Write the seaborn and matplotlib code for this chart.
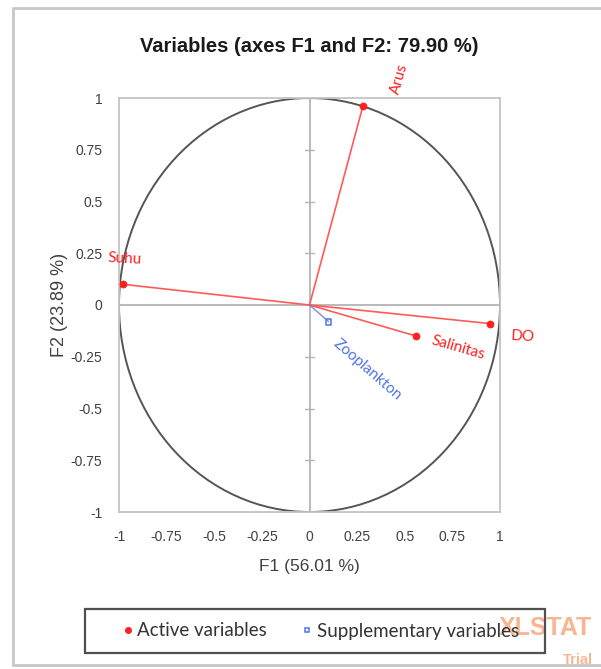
import numpy as np
import pandas as pd
import matplotlib
matplotlib.use("Agg")
import matplotlib.pyplot as plt
from matplotlib.patches import Circle, Rectangle
from matplotlib.lines import Line2D
import seaborn as sns

# Correlation loadings on the first two factors
active_names = ["Arus", "Suhu", "DO", "Salinitas"]
active_f1 = [0.28, -0.98, 0.95, 0.56]
active_f2 = [0.96, 0.10, -0.09, -0.15]

supp_names = ["Zooplankton"]
supp_f1 = [0.10]
supp_f2 = [-0.08]

ticks = [-1, -0.75, -0.5, -0.25, 0, 0.25, 0.5, 0.75, 1]
tick_labels = ["-1", "-0.75", "-0.5", "-0.25", "0", "0.25", "0.5", "0.75", "1"]

title = "Variables (axes F1 and F2: 79.90 %)"
xlabel = "F1 (56.01 %)"
ylabel = "F2 (23.89 %)"

# label placement (offset from point, rotation)
label_layout = {
    "Arus": (0.19, 0.13, 74),
    "Suhu": (0.01, 0.125, -3),
    "DO": (0.17, -0.065, -3),
    "Salinitas": (0.22, -0.055, -16),
    "Zooplankton": (0.205, -0.235, -41),
}

RED = "#FF2020"
RED_LINE = "#FF5A5A"
BLUE = "#4F74E3"
GRID = "#B4B4B4"
TXT = "#404040"

sns.set_theme(style="white")
plt.rcParams["font.family"] = ["Liberation Sans", "DejaVu Sans"]

fig = plt.figure(figsize=(6.01, 6.69), dpi=100)
W, H = 601, 669
ax = fig.add_axes([119 / W, 1 - 512 / H, 381 / W, 414 / H])

active = pd.DataFrame({"name": active_names, "F1": active_f1, "F2": active_f2})
supp = pd.DataFrame({"name": supp_names, "F1": supp_f1, "F2": supp_f2})

# zero axes
ax.axhline(0, color=GRID, lw=1.3, zorder=1)
ax.axvline(0, color=GRID, lw=1.3, zorder=1)
# small tick marks on the vertical zero axis
for t in ticks:
    if t != 0:
        ax.plot([-0.022, 0.022], [t, t], color=GRID, lw=1.0, zorder=1)

# correlation circle
ax.add_patch(Circle((0, 0), 1, fill=False, ec="#555555", lw=1.4, zorder=2))

# vectors
for _, r in active.iterrows():
    ax.plot([0, r.F1], [0, r.F2], color=RED_LINE, lw=1.2, zorder=3)
for _, r in supp.iterrows():
    ax.plot([0, r.F1], [0, r.F2], color=BLUE, lw=1.0, alpha=0.8, zorder=3)

sns.scatterplot(data=active, x="F1", y="F2", ax=ax, color=RED, s=26,
                edgecolor=RED, linewidth=0.5, zorder=4, legend=False)
sns.scatterplot(data=supp, x="F1", y="F2", ax=ax, marker="s", s=18,
                facecolor="none", edgecolor=BLUE, linewidth=1.1, zorder=4,
                legend=False)

label_font = ["Lato", "DejaVu Sans"]
for _, r in active.iterrows():
    dx, dy, rot = label_layout[r["name"]]
    ax.text(r.F1 + dx, r.F2 + dy, r["name"], color=RED, fontsize=11,
            rotation=rot, ha="center", va="center", family=label_font,
            rotation_mode="anchor", zorder=5)
for _, r in supp.iterrows():
    dx, dy, rot = label_layout[r["name"]]
    ax.text(r.F1 + dx, r.F2 + dy, r["name"], color=BLUE, fontsize=11,
            rotation=rot, ha="center", va="center", family=label_font,
            rotation_mode="anchor", zorder=5)

ax.set_xlim(-1, 1)
ax.set_ylim(-1, 1)
ax.set_xticks(ticks)
ax.set_xticklabels(tick_labels)
ax.set_yticks(ticks)
ax.set_yticklabels(tick_labels)
ax.tick_params(length=0, labelsize=10, labelcolor=TXT)
ax.tick_params(axis="x", pad=13)
ax.tick_params(axis="y", pad=12)
for s in ax.spines.values():
    s.set_color("#C4C4C4")
    s.set_linewidth(1.3)
ax.set_xlabel(xlabel, fontsize=12.5, color=TXT, labelpad=11)
ax.set_ylabel(ylabel, fontsize=13, color=TXT, labelpad=2)
ax.set_title(title, fontsize=14.5, fontweight="bold", color="#1A1A1A", pad=33)

# legend box
fig.patches.append(Rectangle((85 / W, 1 - 653 / H), 460 / W, 44 / H,
                             transform=fig.transFigure, fill=False,
                             ec="#505050", lw=1.6, zorder=5))
handles = [
    Line2D([], [], ls="none", marker="o", ms=4, color=RED, mec=RED),
    Line2D([], [], ls="none", marker="s", ms=3.5, mfc="none", mec=BLUE, mew=1.1),
]
fig.legend(handles, ["Active variables", "Supplementary variables"],
           loc="center", bbox_to_anchor=(320 / W, 1 - 631 / H), ncol=2,
           frameon=False, handletextpad=0.15, columnspacing=1.8,
           handlelength=0.7, prop={"family": ["Lato", "DejaVu Sans"], "size": 13.5},
           labelcolor="#333333")

# watermark
fig.text(499 / W, 1 - 628 / H, "XLSTAT", color="#F6AA7E", alpha=0.85,
         fontsize=18, fontweight="bold", va="center", ha="left")
fig.text(593 / W, 1 - 660 / H, "Trial", color="#F6AA7E", alpha=0.85,
         fontsize=10.5, fontweight="bold", va="center", ha="right")

# outer frame
frame_kw = dict(color="#C8C8C8", lw=2.0, transform=fig.transFigure)
fig.lines.append(Line2D([13 / W, 1], [1 - 8 / H, 1 - 8 / H], **frame_kw))
fig.lines.append(Line2D([13 / W, 13 / W], [1 - 8 / H, 1 - 665 / H], **frame_kw))
fig.lines.append(Line2D([13 / W, 1], [1 - 665 / H, 1 - 665 / H], **frame_kw))

fig.savefig("out.png", dpi=100)
